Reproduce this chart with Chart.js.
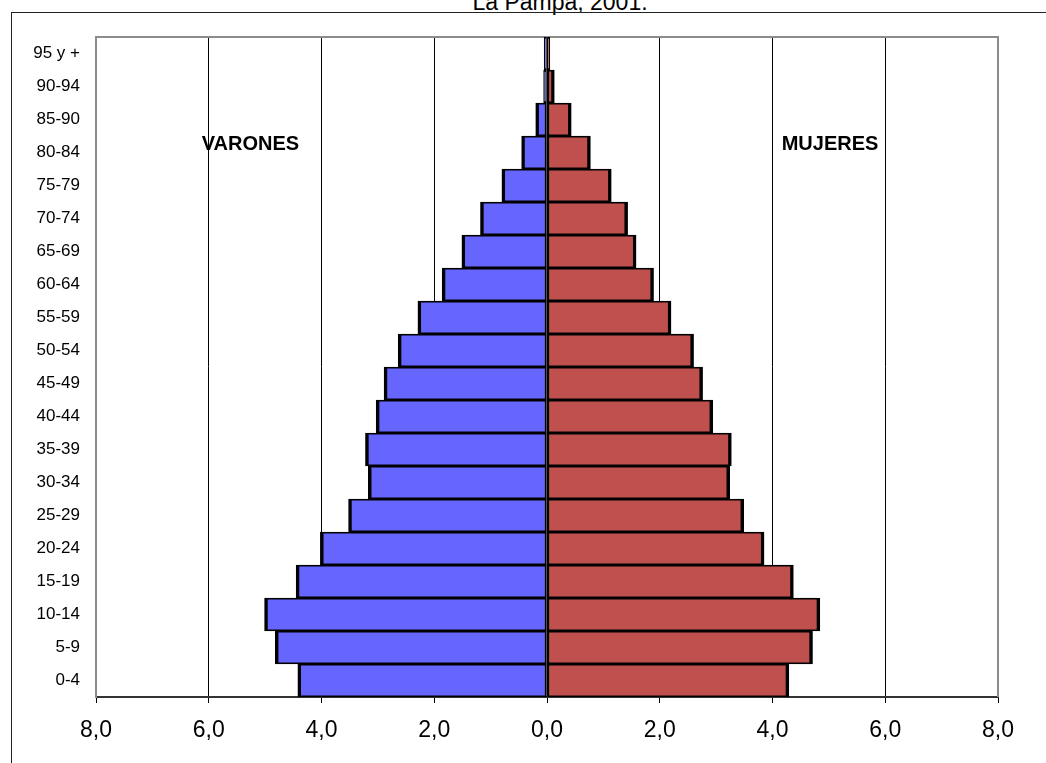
<!DOCTYPE html>
<html>
<head>
<meta charset="utf-8">
<script src="https://cdn.jsdelivr.net/npm/chart.js@4"></script>
<style>
  html, body { margin: 0; padding: 0; background: #fff; overflow: hidden; }
  #wrap { position: relative; width: 1046px; height: 763px; }
  #frame { position: absolute; left: 11px; top: 12px; right: 0; bottom: 0; border-left: 1px solid #222; border-top: 1px solid #222; }
  #title { position: absolute; left: 0; width: 1120px; top: -11.5px; line-height: 23px; text-align: center;
           font: 23px "Liberation Sans", Arial, sans-serif; color: #000; }
  canvas { position: absolute; left: 0; top: 0; }
</style>
</head>
<body>
<div id="wrap">
  <div id="title">La Pampa, 2001.</div>
  <div id="frame"></div>
  <canvas id="pyramid" width="1046" height="763"></canvas>
</div>
<script>
// Grupos de edad (de abajo hacia arriba)
const edades = ['0-4', '5-9', '10-14', '15-19', '20-24', '25-29', '30-34', '35-39', '40-44', '45-49',
                '50-54', '55-59', '60-64', '65-69', '70-74', '75-79', '80-84', '85-90', '90-94', '95 y +'];

// Porcentaje de la poblacion por sexo
const varones = [4.42, 4.82, 5.01, 4.45, 4.02, 3.52, 3.17, 3.22, 3.03, 2.89,
                 2.64, 2.29, 1.86, 1.51, 1.18, 0.80, 0.45, 0.20, 0.06, 0.05];
const mujeres = [4.29, 4.71, 4.84, 4.37, 3.85, 3.49, 3.24, 3.27, 2.94, 2.76,
                 2.60, 2.20, 1.89, 1.58, 1.43, 1.14, 0.77, 0.43, 0.13, 0.05];

// Eje horizontal
const xMin = -8;
const xMax = 8;
const xStep = 2;

const fmt = v => Math.abs(v).toFixed(1).replace('.', ',');

// Marco gris del area de trazado y rotulos de sexo
const plotFrame = {
    id: 'plotFrame',
    beforeDatasetsDraw(chart) {
        const a = chart.chartArea;
        const ctx = chart.ctx;
        ctx.save();
        ctx.strokeStyle = '#8c8c8c';
        ctx.lineWidth = 2;
        ctx.beginPath();
        ctx.moveTo(a.left, a.top);
        ctx.lineTo(a.right, a.top);
        ctx.lineTo(a.right, a.bottom);
        ctx.stroke();
        ctx.restore();
    },
    afterDraw(chart) {
        const ctx = chart.ctx;
        const x = chart.scales.x;
        const y = chart.scales.y;
        ctx.save();
        ctx.fillStyle = '#000';
        ctx.font = 'bold 20px "Liberation Sans", Arial, sans-serif';
        ctx.textAlign = 'center';
        ctx.textBaseline = 'middle';
        ctx.fillText('VARONES', x.getPixelForValue(-5.26), y.getPixelForValue(16.25));
        ctx.fillText('MUJERES', x.getPixelForValue(5.02), y.getPixelForValue(16.25));
        ctx.restore();
    }
};

const ctx = document.getElementById('pyramid').getContext('2d');

const pyramidChart = new Chart(ctx, {
    type: 'bar',
    data: {
        labels: edades,
        datasets: [{
            label: 'Varones',
            data: varones.map(v => -v),
            backgroundColor: '#6666FF',
            borderColor: '#000',
            borderWidth: { left: 3.5, right: 2, top: 1.75, bottom: 1.75 },
            borderSkipped: false,
            barPercentage: 1,
            categoryPercentage: 1
        }, {
            label: 'Mujeres',
            data: mujeres,
            backgroundColor: '#C0504D',
            borderColor: '#000',
            borderWidth: { left: 2, right: 3.5, top: 1.75, bottom: 1.75 },
            borderSkipped: false,
            barPercentage: 1,
            categoryPercentage: 1
        }]
    },
    options: {
        indexAxis: 'y',
        responsive: false,
        animation: false,
        layout: {
            padding: { top: 37, right: 48, left: 0, bottom: 0 }
        },
        plugins: {
            legend: { display: false },
            tooltip: { enabled: false }
        },
        scales: {
            x: {
                stacked: true,
                min: xMin,
                max: xMax,
                afterFit: scale => { scale.height = 66; },
                grid: {
                    color: ctx => (ctx.tick && Math.abs(ctx.tick.value) === xMax) ? 'rgba(0,0,0,0)' : '#000',
                    lineWidth: 1,
                    drawTicks: true,
                    tickLength: 6,
                    tickColor: '#000',
                    tickWidth: 1
                },
                border: { display: true, color: '#333', width: 2 },
                ticks: {
                    stepSize: xStep,
                    color: '#000',
                    padding: 14,
                    maxRotation: 0,
                    font: { family: '"Liberation Sans", Arial, sans-serif', size: 23 },
                    callback: v => fmt(v)
                }
            },
            y: {
                stacked: true,
                reverse: true,
                afterFit: scale => { scale.width = 96; },
                grid: { display: false, drawTicks: false },
                border: { display: true, color: '#8c8c8c', width: 2 },
                ticks: {
                    color: '#000',
                    padding: 16,
                    autoSkip: false,
                    font: { family: '"Liberation Sans", Arial, sans-serif', size: 17 }
                }
            }
        }
    },
    plugins: [plotFrame]
});
</script>
</body>
</html>
